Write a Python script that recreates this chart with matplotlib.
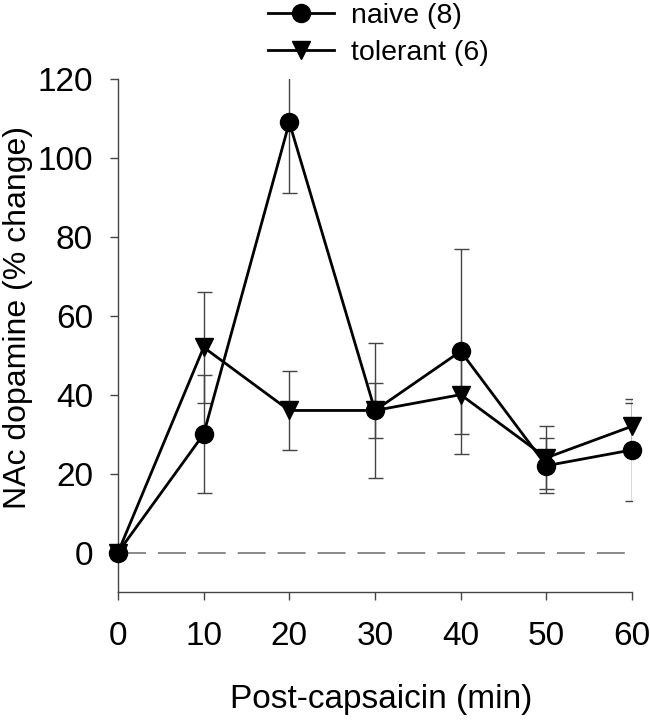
import numpy as np
import matplotlib.pyplot as plt

plt.rcParams['font.family'] = ['Liberation Sans', 'DejaVu Sans']

minutes = [0, 10, 20, 30, 40, 50, 60]
naive = [0, 30, 109, 36, 51, 22, 26]
naive_err = [0, 15, 18, 17, 26, 7, 13]
tolerant = [0, 52, 36, 36, 40, 24, 32]
tolerant_err = [0, 14, 10, 7, 10, 8, 6]

fig = plt.figure(figsize=(6.5, 7.2), dpi=100)
ax = fig.add_axes([0.1815, 0.1778, 0.7908, 0.7125])

ax.axhline(0, color='#808080', lw=1.3, dashes=(15.5, 6.6), zorder=1)

for y, e in [(naive, naive_err), (tolerant, tolerant_err)]:
    ax.errorbar(minutes[1:], y[1:], yerr=e[1:], fmt='none', ecolor='#444444',
                elinewidth=1, capsize=5.4, capthick=1, zorder=2)

ax.plot(minutes, naive, color='black', lw=2, marker='o', ms=13,
        label='naive (8)', clip_on=False, zorder=4)
ax.plot(minutes, tolerant, color='black', lw=2, marker='v', ms=13,
        label='tolerant (6)', clip_on=False, zorder=3)

ax.set_xlim(0, 60)
ax.set_ylim(-10, 120)
ax.set_xticks(minutes)
ax.set_yticks(np.arange(0, 121, 20))
ax.spines['top'].set_visible(False)
ax.spines['right'].set_visible(False)
for s in ['left', 'bottom']:
    ax.spines[s].set_color('#444444')
    ax.spines[s].set_linewidth(1)
ax.tick_params(axis='y', direction='out', length=6, width=1, color='#444444',
               labelsize=24, pad=12)
ax.tick_params(axis='x', direction='out', length=6, width=1, color='#444444',
               labelsize=24, pad=15)

ax.set_xlabel('Post-capsaicin (min)', fontsize=24, labelpad=23)
ax.xaxis.set_label_coords(0.512, -0.18)
ax.set_ylabel('NAc dopamine (% change)', fontsize=23)
ax.yaxis.set_label_coords(-0.165, 0.535)

fig.legend(loc='upper left', bbox_to_anchor=(0.395, 1.012), frameon=False,
           fontsize=20.5, handlelength=2.3, handletextpad=0.6, labelspacing=0.4,
           borderaxespad=0)

fig.savefig('out.png', dpi=100)
